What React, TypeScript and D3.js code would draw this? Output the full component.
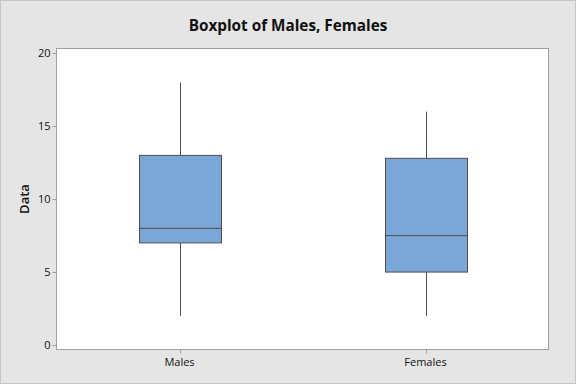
import React from "react";
import * as d3 from "d3";

const categories = ["Males", "Females"];
const whiskerLow = [2, 2];
const q1Values = [7, 5];
const medianValues = [8, 7.5];
const q3Values = [13, 12.8];
const whiskerHigh = [18, 16];
const yTicks = [0, 5, 10, 15, 20];

const W = 576;
const H = 384;
const left = 56.5;
const right = 548.5;
const top = 48.5;
const bottom = 349.5;

export default function App() {
  const x = d3.scalePoint<string>().domain(categories).range([left, right]).padding(0.5);
  const y = d3.scaleLinear().domain([0, 20]).range([345, 53.3]);
  const step = x.step();
  const boxW = step / 3;
  const font = "'Segoe UI', 'Open Sans', 'Noto Sans', sans-serif";
  const stroke = "#4d4d4d";

  return (
    <div style={{ position: "absolute", left: 0, top: 0 }}>
      <svg width={W} height={H} style={{ display: "block" }}>
        <rect x={0.5} y={0.5} width={W - 1} height={H - 1} fill="#e5e5e5" stroke="#c6c6c6" />
        <text x={288} y={31} textAnchor="middle" fontFamily={font} fontWeight={700} fontSize={15.3} fill="#111">
          Boxplot of Males, Females
        </text>
        <rect x={left} y={top} width={right - left} height={bottom - top} fill="#ffffff" stroke="#a0a0a0" />
        {yTicks.map((t) => (
          <g key={t}>
            <line x1={left - 4} x2={left} y1={Math.round(y(t)) + 0.5} y2={Math.round(y(t)) + 0.5} stroke="#a0a0a0" />
            <text x={left - 6} y={y(t) + 4} textAnchor="end" fontFamily={font} fontSize={11} fill="#111">
              {t}
            </text>
          </g>
        ))}
        {categories.map((c) => (
          <g key={c}>
            <line x1={Math.round(x(c)!) + 0.5} x2={Math.round(x(c)!) + 0.5} y1={bottom} y2={bottom + 4} stroke="#a0a0a0" />
            <text x={x(c)!} y={bottom + 16} textAnchor="middle" fontFamily={font} fontSize={11} fill="#111">
              {c}
            </text>
          </g>
        ))}
        <text
          transform={`translate(29,${(top + bottom) / 2}) rotate(-90)`}
          textAnchor="middle"
          fontFamily={font}
          fontWeight={600}
          fontSize={13}
          fill="#111"
        >
          Data
        </text>
        {categories.map((c, i) => {
          const cx = Math.round(x(c)!) + 0.5;
          const x0 = Math.round(x(c)! - boxW / 2) + 0.5;
          const bw = Math.round(boxW);
          return (
            <g key={c}>
              <line x1={cx} x2={cx} y1={y(whiskerHigh[i])} y2={y(q3Values[i])} stroke={stroke} />
              <line x1={cx} x2={cx} y1={y(q1Values[i])} y2={y(whiskerLow[i])} stroke={stroke} />
              <rect
                x={x0}
                y={y(q3Values[i])}
                width={bw}
                height={y(q1Values[i]) - y(q3Values[i])}
                fill="#7ba6d8"
                stroke={stroke}
              />
              <line x1={x0} x2={x0 + bw} y1={y(medianValues[i])} y2={y(medianValues[i])} stroke={stroke} />
            </g>
          );
        })}
      </svg>
    </div>
  );
}
